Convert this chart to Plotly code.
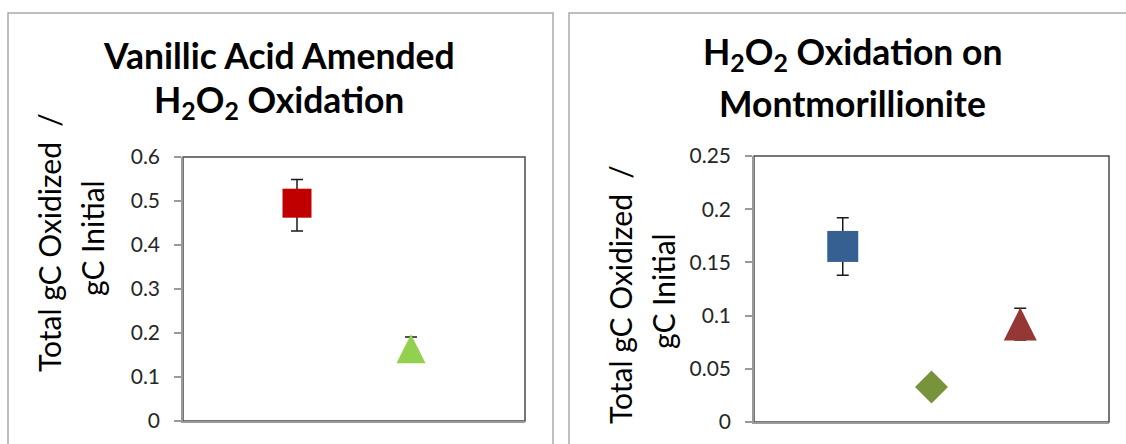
import plotly.graph_objects as go

W, H = 1126, 444

# ---- data ----
# Vanillic acid amended H2O2 oxidation
va_x = [1, 2]
va_y = [0.495, 0.164]
va_err_plus = [0.054, 0.027]
va_err_minus = [0.063, 0.027]
va_symbols = ["square", "triangle"]
va_colors = ["#C00000", "#92D050"]
va_sizes = [29, 29]

# H2O2 oxidation on montmorillonite
mt_x = [1, 2, 3]
mt_y = [0.165, 0.033, 0.092]
mt_err = [0.027, 0.0, 0.015]
mt_symbols = ["square", "diamond", "triangle"]
mt_colors = ["#376092", "#77933C", "#953735"]
mt_sizes = [31, 33, 33]

va_ticks = [0, 0.1, 0.2, 0.3, 0.4, 0.5, 0.6]
va_ticktext = ["0", "0.1", "0.2", "0.3", "0.4", "0.5", "0.6"]
mt_ticks = [0, 0.05, 0.1, 0.15, 0.2, 0.25]
mt_ticktext = ["0", "0.05", "0.1", "0.15", "0.2", "0.25"]

FONT = "Lato"
ERR_COLOR = "#1a1a1a"


def px(x):
    return x / W


def py(y):
    return 1 - y / H


def marker_style(symbol, size):
    """Return plotly marker settings; triangles are drawn as centred
    arrows so that their width matches their height."""
    if symbol == "triangle":
        return dict(symbol="arrow-down", angle=180, standoff=size / 2, size=size)
    if symbol == "diamond":
        return dict(symbol="diamond", size=size / 1.3)
    return dict(symbol=symbol, size=size)


fig = go.Figure()

for i in range(len(va_x)):
    m = marker_style(va_symbols[i], va_sizes[i])
    fig.add_trace(go.Scatter(
        x=[va_x[i]], y=[va_y[i]], mode="markers", xaxis="x", yaxis="y",
        marker=dict(color=va_colors[i], line=dict(width=0), **m),
        error_y=dict(type="data", symmetric=False, array=[va_err_plus[i]],
                     arrayminus=[va_err_minus[i]], color=ERR_COLOR,
                     thickness=1.5, width=6),
        showlegend=False, hoverinfo="y"))

for i in range(len(mt_x)):
    m = marker_style(mt_symbols[i], mt_sizes[i])
    fig.add_trace(go.Scatter(
        x=[mt_x[i]], y=[mt_y[i]], mode="markers", xaxis="x2", yaxis="y2",
        marker=dict(color=mt_colors[i], line=dict(width=0), **m),
        error_y=dict(type="data", array=[mt_err[i]], color=ERR_COLOR,
                     thickness=1.5, width=6, visible=mt_err[i] > 0),
        showlegend=False, hoverinfo="y"))

# plot-area geometry (pixels)
L1 = dict(x0=183, x1=525, y0=157, y1=421)
L2 = dict(x0=754, x1=1109, y0=156, y1=422)

yaxis_common = dict(
    showgrid=False, zeroline=False, showline=True, linecolor="#9a9a9a",
    linewidth=1.5, ticks="outside", ticklen=7, tickcolor="#9a9a9a",
    tickwidth=1.5, tickfont=dict(family=FONT, size=21, color="#262626"),
    ticklabelstandoff=10, fixedrange=True, automargin=False,
)
xaxis_common = dict(
    showgrid=False, zeroline=False, showline=True, linecolor="#9a9a9a",
    linewidth=1.5, ticks="", showticklabels=False, fixedrange=True,
    automargin=False,
)

fig.update_layout(
    width=W, height=H,
    margin=dict(l=0, r=0, t=0, b=0, pad=0, autoexpand=False),
    paper_bgcolor="white", plot_bgcolor="white", showlegend=False,
    xaxis=dict(domain=[px(L1["x0"]), px(L1["x1"])], range=[0, 3],
               anchor="y", **xaxis_common),
    yaxis=dict(domain=[py(L1["y1"]), py(L1["y0"])], range=[0, 0.6],
               anchor="x", tickvals=va_ticks, ticktext=va_ticktext,
               **yaxis_common),
    xaxis2=dict(domain=[px(L2["x0"]), px(L2["x1"])], range=[0, 4],
                anchor="y2", **xaxis_common),
    yaxis2=dict(domain=[py(L2["y1"]), py(L2["y0"])], range=[0, 0.25],
                anchor="x2", tickvals=mt_ticks, ticktext=mt_ticktext,
                **yaxis_common),
)

shapes = []
# chart-area borders
for x0, x1 in [(8, 553), (569, 1135)]:
    shapes.append(dict(type="rect", xref="paper", yref="paper",
                       x0=px(x0), x1=px(x1), y0=py(470), y1=py(13),
                       line=dict(color="#ababab", width=1.5),
                       fillcolor="rgba(0,0,0,0)", layer="below"))
# plot-area frames (top/right edges darker)
for g in (L1, L2):
    shapes.append(dict(type="rect", xref="paper", yref="paper",
                       x0=px(g["x0"]), x1=px(g["x1"]),
                       y0=py(g["y1"]), y1=py(g["y0"]),
                       line=dict(color="#4a4a4a", width=1.5),
                       fillcolor="rgba(0,0,0,0)", layer="below"))
fig.update_layout(shapes=shapes)

annotations = []
title_font = dict(family=FONT, size=35.5, color="black")
for cx, lines in [(279, ["<b>Vanillic Acid Amended</b>",
                         "<b>H<sub>2</sub>O<sub>2</sub> Oxidation</b>"]),
                  (852, ["<b>H<sub>2</sub>O<sub>2</sub> Oxidation on</b>",
                         "<b>Montmorillionite</b>"])]:
    for k, txt in enumerate(lines):
        annotations.append(dict(
            text=txt, x=px(cx), y=py(67 + 48 * k), xref="paper", yref="paper",
            xanchor="center", yanchor="bottom", showarrow=False,
            font=title_font, yshift=-12))

ytitle_font = dict(family=FONT, size=30, color="black")
for g, cy1, cy2 in [(L1, 243, 238), (L2, 295, 291)]:
    annotations.append(dict(
        text="Total gC Oxidized&nbsp; /", x=px(g["x0"] - 134), y=py(cy1),
        xref="paper", yref="paper", xanchor="center", yanchor="middle",
        textangle=-90, showarrow=False, font=ytitle_font))
    annotations.append(dict(
        text="gC Initial", x=px(g["x0"] - 91), y=py(cy2),
        xref="paper", yref="paper", xanchor="center", yanchor="middle",
        textangle=-90, showarrow=False, font=ytitle_font))
fig.update_layout(annotations=annotations)

fig.write_html("out.html")
